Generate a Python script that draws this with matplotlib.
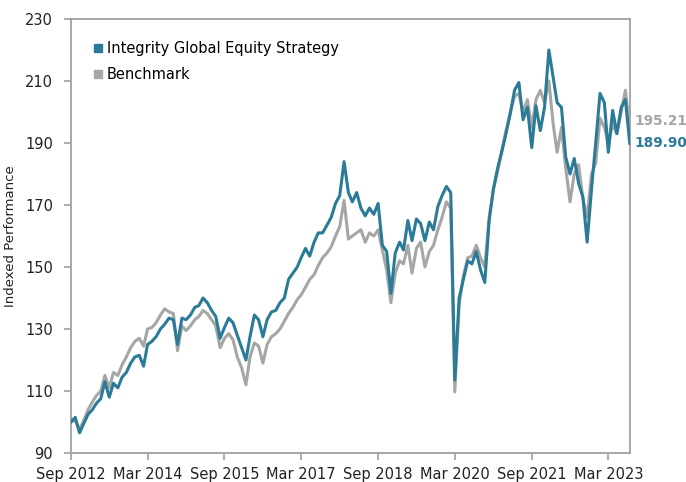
import matplotlib
matplotlib.use("Agg")
import matplotlib.pyplot as plt
import matplotlib.dates as mdates
from matplotlib.lines import Line2D
import pandas as pd

# monthly index levels, Sep 2012 .. Aug 2023
start = "2012-09-01"
strategy = [
    100, 101.5, 96.5, 99.5,
    102.5, 104, 106, 107.5, 113, 108, 112.5, 111, 114.5, 116, 119, 121,
    121.5, 118, 125, 126, 127.5, 130, 131.5, 133.5, 133, 125, 133.5, 133,
    134.5, 137, 137.5, 140, 138.5, 136, 134, 127, 130.5, 133.5, 132, 128,
    124, 120, 127.5, 134.5, 133, 127.5, 133, 135.5, 136, 138.5, 140, 146,
    148, 150, 153, 156, 153.5, 158, 161, 161, 163.5, 166, 170.5, 173,
    184, 174, 171, 174, 169, 166.5, 169, 167, 170.5, 157, 155, 141.5,
    154.5, 158, 155.5, 165, 158.5, 165.5, 164, 158.5, 164.5, 162, 169.5, 173,
    176, 174, 113.5, 140, 146, 152, 151, 155, 149, 145, 165, 175,
    182, 187.5, 193, 199.5, 207, 209.5, 197.5, 201.5, 188.5, 202, 194, 201.5,
    220, 211, 203, 201.5, 185.5, 180, 185, 177, 172.5, 158, 175, 190,
    206, 203, 187, 200.5, 193, 201.5, 204, 189.90,
]
benchmark = [
    100, 100.5, 97.5, 100.5,
    104, 106.5, 108.5, 110, 115, 111, 116, 115, 118.5, 121, 124, 126,
    127, 124.5, 130, 130.5, 132, 134.5, 136.5, 135.5, 135, 123, 131, 129.5,
    131, 133, 134, 136, 135, 133, 131, 124, 127, 128.5, 126.5, 121,
    117.5, 112, 121, 125.5, 124.5, 119, 125, 127.5, 128.5, 130, 132.5, 135,
    137, 139.5, 141, 143.5, 146, 147.5, 150.5, 153, 154.5, 156.5, 160, 163,
    171.5, 159, 160, 161, 162, 158, 161, 160, 162, 155.5, 149, 138.5,
    148, 152, 151, 157, 148, 156, 158, 150, 155, 157, 162, 166,
    171, 169, 109.7, 138, 147, 153, 153.5, 157, 153, 150, 166, 175,
    181, 188, 194, 200, 205, 206, 200, 204, 195, 204, 207, 203,
    210, 196, 187, 195, 182, 171, 180, 183, 172, 166, 180, 183.5,
    198, 195, 190, 196, 193, 200, 207, 195.21,
]
series_names = ["Integrity Global Equity Strategy", "Benchmark"]
y_ticks = [90, 110, 130, 150, 170, 190, 210, 230]

dates = pd.date_range(start, periods=len(strategy), freq="MS")
tick_dates = pd.date_range(start, dates[-1], freq="18MS")

BLUE = "#2b7b98"
GRAY = "#a6a6a6"
SPINE = "#a0a0a0"

fig = plt.figure(figsize=(6.86, 4.82), dpi=100)
ax = fig.add_axes([0.1035, 0.0602, 0.8145, 0.9004])

ax.plot(dates, benchmark, color=GRAY, lw=2.2, zorder=2)
ax.plot(dates, strategy, color=BLUE, lw=2.2, zorder=3)

ax.set_xlim(dates[0], dates[-1])
ax.set_ylim(90, 230)
ax.set_yticks(y_ticks)
ax.set_xticks(tick_dates)
ax.xaxis.set_major_formatter(mdates.DateFormatter("%b %Y"))

for s in ax.spines.values():
    s.set_color(SPINE)
    s.set_linewidth(1.3)
ax.tick_params(axis="both", colors=SPINE, labelcolor="#222222",
               length=5, width=1.2, labelsize=10.5, direction="out")
ax.tick_params(axis="y", pad=8)
ax.tick_params(axis="x", pad=5)

ax.set_ylabel("Indexed Performance", fontsize=9.5, color="#222222", labelpad=6)

# end-of-series value labels
ax.text(1.008, benchmark[-1] + 2, f"{benchmark[-1]:.2f}", transform=ax.get_yaxis_transform(),
        color=GRAY, fontsize=9.8, fontweight="bold", va="center", ha="left")
ax.text(1.008, strategy[-1], f"{strategy[-1]:.2f}", transform=ax.get_yaxis_transform(),
        color=BLUE, fontsize=9.8, fontweight="bold", va="center", ha="left")

handles = [
    Line2D([], [], marker="s", ls="none", color=BLUE, markersize=6),
    Line2D([], [], marker="s", ls="none", color=GRAY, markersize=6),
]
ax.legend(handles, series_names, loc="upper left", bbox_to_anchor=(0.02, 0.97),
          frameon=False, fontsize=10.5, handletextpad=0.1, handlelength=1.0,
          labelspacing=0.75, borderaxespad=0.2)

fig.savefig("out.png", dpi=100)
